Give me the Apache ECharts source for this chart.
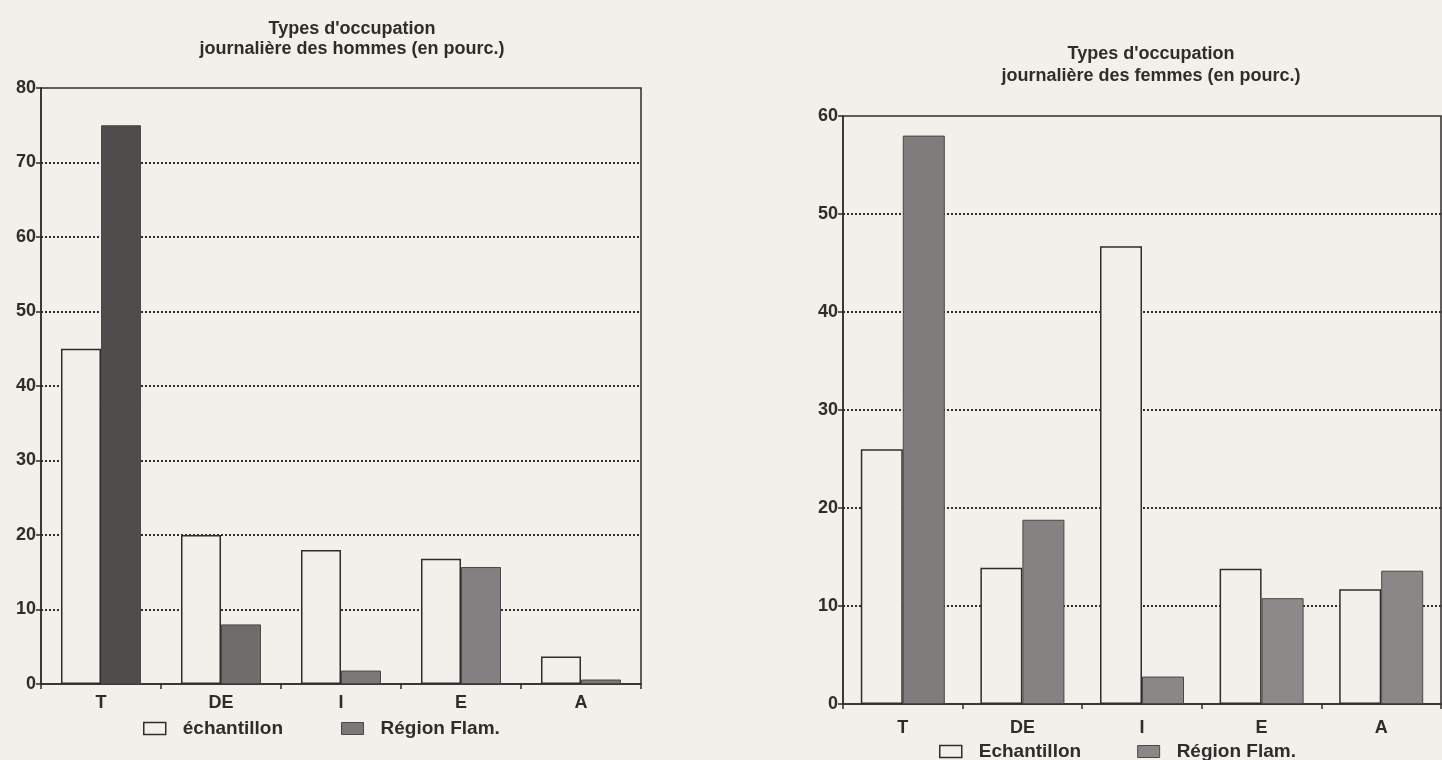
<!DOCTYPE html>
<html>
<head>
<meta charset="utf-8">
<title>Types d'occupation journalière</title>
<script src="https://cdn.jsdelivr.net/npm/echarts@6/dist/echarts.min.js"></script>
<style>
  html, body { margin: 0; padding: 0; background: #f3f0eb; }
  #chart { width: 1442px; height: 760px; }
</style>
</head>
<body>
<div id="chart"></div>
<script>
// categories d'occupation
const categories = ['T', 'DE', 'I', 'E', 'A'];

// hommes (en pourc.)
const hommesEchantillon = [45, 20, 18, 16.8, 3.7];
const hommesRegion = [75, 8, 1.8, 15.7, 0.6];
const hommesTicks = [0, 10, 20, 30, 40, 50, 60, 70, 80];

// femmes (en pourc.)
const femmesEchantillon = [26, 13.9, 46.7, 13.8, 11.7];
const femmesRegion = [58, 18.8, 2.8, 10.8, 13.6];
const femmesTicks = [0, 10, 20, 30, 40, 50, 60];

const ink = '#2f2d2b';
const paper = '#f3f0eb';
const font = 'Liberation Sans';

const chart = echarts.init(document.getElementById('chart'));

function gridFor(left, right, top, bottom) {
  return {
    left: left, right: right, top: top, bottom: bottom,
    show: true,
    borderColor: ink,
    borderWidth: 1.5,
    backgroundColor: 'transparent'
  };
}

function xAxisFor(idx, margin) {
  return {
    type: 'category',
    gridIndex: idx,
    data: categories,
    axisLine: { lineStyle: { color: ink, width: 1.5 } },
    axisTick: { show: true, length: 5, lineStyle: { color: ink, width: 1.5 } },
    axisLabel: { color: ink, fontFamily: font, fontWeight: 'bold', fontSize: 18, margin: margin }
  };
}

function yAxisFor(idx, ticks) {
  return {
    type: 'value',
    gridIndex: idx,
    min: ticks[0],
    max: ticks[ticks.length - 1],
    interval: ticks[1] - ticks[0],
    axisLine: { show: true, lineStyle: { color: ink, width: 1.5 } },
    axisTick: { show: true, length: 5, lineStyle: { color: ink, width: 1.5 } },
    axisLabel: { color: ink, fontFamily: font, fontWeight: 'bold', fontSize: 18, margin: 5 },
    splitLine: {
      show: true,
      showMinLine: false,
      showMaxLine: false,
      lineStyle: { color: ink, type: [2, 2], width: 2 }
    }
  };
}

function barPair(idx, openName, filledName, open, filled, fillColors, width) {
  return [
    {
      name: openName,
      type: 'bar',
      xAxisIndex: idx,
      yAxisIndex: idx,
      data: open,
      barWidth: width,
      barGap: 0,
      itemStyle: { color: paper, borderColor: ink, borderWidth: 1.5 }
    },
    {
      name: filledName,
      type: 'bar',
      xAxisIndex: idx,
      yAxisIndex: idx,
      data: filled,
      barWidth: width,
      barGap: 0,
      itemStyle: {
        color: function (params) {
          return fillColors[params.dataIndex];
        },
        borderColor: '#4a4846',
        borderWidth: 1
      }
    }
  ];
}

const leftSeries = barPair(0, 'échantillon', 'Région Flam.', hommesEchantillon, hommesRegion,
  ['#4f4d4b', '#6f6d6b', '#7b7977', '#828080', '#7b7977'], 40);
const rightSeries = barPair(1, 'Echantillon', 'Région Flam. ', femmesEchantillon, femmesRegion,
  ['#7f7d7b', '#858381', '#8a8886', '#8c8a88', '#8a8886'], 42);

function legendFor(openName, filledName, left, top, gap, fill) {
  return {
    data: [
      { name: openName, itemStyle: { color: paper, borderColor: ink, borderWidth: 1.5 } },
      { name: filledName, itemStyle: { color: fill, borderColor: '#4a4846', borderWidth: 1 } }
    ],
    left: left, top: top,
    itemWidth: 22, itemHeight: 12, itemGap: gap,
    icon: 'rect',
    textStyle: { color: ink, fontFamily: font, fontWeight: 'bold', fontSize: 19, padding: [0, 0, 0, 12] },
    formatter: function (name) { return name.trim(); }
  };
}

chart.setOption({
  backgroundColor: paper,
  animation: false,
  title: [
    {
      text: "Types d'occupation\njournalière des hommes (en pourc.)",
      left: 347, top: 14, textAlign: 'center',
      textStyle: { color: ink, fontFamily: font, fontWeight: 'bold', fontSize: 18, lineHeight: 20 }
    },
    {
      text: "Types d'occupation\njournalière des femmes (en pourc.)",
      left: 1146, top: 38, textAlign: 'center',
      textStyle: { color: ink, fontFamily: font, fontWeight: 'bold', fontSize: 18, lineHeight: 22 }
    }
  ],
  legend: [
    legendFor('échantillon', 'Région Flam.', 138, 714, 58, '#7a7876'),
    legendFor('Echantillon', 'Région Flam. ', 934, 737, 56, '#8a8886')
  ],
  grid: [
    gridFor(41, 801, 88, 76),
    gridFor(843, 1, 116, 56)
  ],
  xAxis: [xAxisFor(0, 10), xAxisFor(1, 15)],
  yAxis: [yAxisFor(0, hommesTicks), yAxisFor(1, femmesTicks)],
  series: leftSeries.concat(rightSeries)
});
</script>
</body>
</html>
